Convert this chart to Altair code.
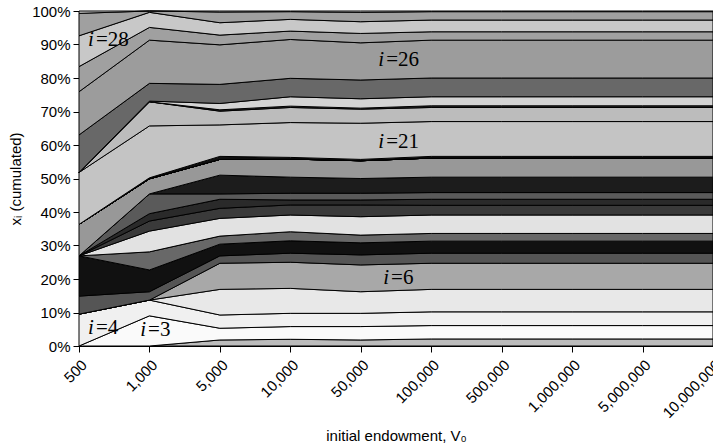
import json
import altair as alt
import pandas as pd

# Initial endowment V0 (x axis categories)
ENDOWMENTS = ["500", "1,000", "5,000", "10,000", "50,000", "100,000",
              "500,000", "1,000,000", "5,000,000", "10,000,000"]

# Cumulated share (%) up to and including strategy i = 1..30, one list per endowment
CUM_500 = [0, 0, 0, 9.5, 9.5, 9.5, 14.9, 26.9, 26.9, 26.9, 26.9, 26.9, 26.9, 26.9, 36.3,
           36.3, 36.3, 36.3, 36.3, 36.3, 51.8, 51.8, 51.8, 51.8, 63.0, 75.9, 83.4, 92.6, 99.3, 100]
CUM_1K = [0, 0, 9.0, 13.7, 13.7, 13.7, 16.2, 22.7, 28.1, 34.3, 37.3, 39.5, 45.4, 45.4, 49.9,
          49.9, 49.9, 49.9, 49.9, 50.2, 65.7, 72.9, 72.9, 73.1, 78.4, 91.3, 95.1, 99.6, 100, 100]
CUM_5K = [0, 1.8, 5.3, 9.25, 16.9, 24.7, 26.9, 30.4, 32.8, 38.1, 41.1, 43.8, 45.4, 51.0, 55.7,
          55.7, 55.7, 55.7, 55.7, 56.6, 66.0, 70.1, 70.5, 72.4, 78.1, 89.9, 92.8, 96.5, 99.7, 100]
CUM_10K = [0, 2.0, 5.8, 9.75, 17.2, 25.0, 27.7, 31.4, 34.1, 39.1, 42.1, 43.6, 45.6, 50.4, 55.8,
           55.8, 55.8, 55.8, 55.8, 56.3, 66.7, 71.2, 71.6, 74.4, 79.9, 91.5, 94.0, 97.5, 99.8, 100]
CUM_50K = [0, 1.8, 5.8, 9.75, 16.2, 24.2, 27.2, 30.8, 33.1, 38.6, 42.1, 43.6, 45.6, 50.0, 55.3,
           55.3, 55.3, 55.3, 55.3, 55.7, 66.5, 70.7, 71.0, 73.8, 79.4, 90.5, 93.3, 96.8, 99.6, 100]
CUM_100K = [0, 2.1, 6.1, 10.2, 16.9, 24.7, 27.7, 31.3, 33.6, 39.1, 42.0, 43.8, 45.8, 50.4, 56.1,
            56.1, 56.1, 56.1, 56.1, 56.6, 67.0, 71.2, 71.7, 74.4, 80.0, 91.3, 93.8, 97.3, 99.8, 100]
CUM_500K = [0, 2.1, 6.1, 10.2, 16.9, 24.7, 27.7, 31.3, 33.6, 39.1, 42.0, 43.8, 45.8, 50.4, 56.1,
            56.1, 56.1, 56.1, 56.1, 56.6, 67.0, 71.2, 71.7, 74.4, 80.0, 91.3, 93.8, 97.3, 99.8, 100]
CUM_1M = [0, 2.1, 6.1, 10.2, 16.9, 24.7, 27.7, 31.3, 33.6, 39.1, 42.0, 43.8, 45.8, 50.4, 56.1,
          56.1, 56.1, 56.1, 56.1, 56.6, 67.0, 71.2, 71.7, 74.4, 80.0, 91.3, 93.8, 97.3, 99.8, 100]
CUM_5M = [0, 2.1, 6.1, 10.2, 16.9, 24.7, 27.7, 31.3, 33.6, 39.1, 42.0, 43.8, 45.8, 50.4, 56.1,
          56.1, 56.1, 56.1, 56.1, 56.6, 67.0, 71.2, 71.7, 74.4, 80.0, 91.3, 93.8, 97.3, 99.8, 100]
CUM_10M = [0, 2.1, 6.1, 10.2, 16.9, 24.7, 27.7, 31.3, 33.6, 39.1, 42.0, 43.8, 45.8, 50.4, 56.1,
           56.1, 56.1, 56.1, 56.1, 56.6, 67.0, 71.2, 71.7, 74.4, 80.0, 91.3, 93.8, 97.3, 99.8, 100]

COLUMNS = [CUM_500, CUM_1K, CUM_5K, CUM_10K, CUM_50K, CUM_100K,
           CUM_500K, CUM_1M, CUM_5M, CUM_10M]

# Grey fill for each strategy i = 1..30
FILLS = ["#b8b8b8", "#bcbcbc", "#fafafa", "#f0f0f0", "#e8e8e8", "#a8a8a8", "#555555",
         "#111111", "#686868", "#e2e2e2", "#3a3a3a", "#2a2a2a", "#5a5a5a", "#1c1c1c",
         "#989898", "#777777", "#333333", "#bbbbbb", "#444444", "#111111", "#c4c4c4",
         "#bcbcbc", "#333333", "#d4d4d4", "#686868", "#9c9c9c", "#a0a0a0", "#c8c8c8",
         "#a0a0a0", "#d0d0d0"]

# In-chart strategy labels: (number, x position in category units, y in %)
LABEL_NUM = ["=28", "=26", "=21", "=6", "=4", "=3"]
LABEL_POS = [0.24, 4.36, 4.36, 4.43, 0.24, 0.98]
LABEL_Y = [91.3, 85.4, 60.9, 20.3, 5.4, 4.8]

rows = []
for j, cum in enumerate(COLUMNS):
    for k, top in enumerate(cum):
        rows.append({
            "pos": j,
            "series": f"i{k + 1:02d}",
            "lower": cum[k - 1] if k > 0 else 0.0,
            "upper": top,
        })
df = pd.DataFrame(rows)
series_names = [f"i{k + 1:02d}" for k in range(len(FILLS))]

labels = pd.DataFrame({"num": LABEL_NUM, "pos": LABEL_POS, "upper": LABEL_Y})

label_expr = json.dumps(ENDOWMENTS) + "[datum.value]"
x_scale = alt.Scale(domain=[0, len(ENDOWMENTS) - 1], nice=False, zero=False)
y_scale = alt.Scale(domain=[0, 100], nice=False)

x_axis = alt.Axis(
    values=list(range(len(ENDOWMENTS))),
    labelExpr=label_expr,
    labelAngle=315,
    labelOverlap=False,
    labelFont="Liberation Sans",
    labelFontSize=15,
    labelColor="black",
    labelPadding=5,
    tickSize=6,
    tickColor="black",
    domainColor="black",
    grid=False,
    title="initial endowment, V₀",
    titleFont="Liberation Sans",
    titleFontSize=15,
    titleFontWeight="normal",
    titleColor="black",
    titlePadding=8,
)

y_axis = alt.Axis(
    values=[0, 10, 20, 30, 40, 50, 60, 70, 80, 90, 100],
    labelExpr="datum.value + '%'",
    labelOverlap=False,
    labelFont="Liberation Sans",
    labelFontSize=15,
    labelColor="black",
    labelPadding=3,
    tickSize=6,
    tickColor="black",
    domainColor="black",
    grid=False,
    title="xᵢ (cumulated)",
    titleFont="Liberation Sans",
    titleFontSize=15,
    titleFontWeight="normal",
    titleColor="black",
    titlePadding=8,
)

x_enc = alt.X("pos:Q", scale=x_scale, axis=x_axis)
y_enc = alt.Y("upper:Q", scale=y_scale, axis=y_axis)

areas = alt.Chart(df).mark_area(
    stroke="black", strokeWidth=1, interpolate="linear", opacity=1
).encode(
    x=x_enc,
    y=y_enc,
    y2="lower:Q",
    color=alt.Color("series:N", scale=alt.Scale(domain=series_names, range=FILLS), legend=None),
)

label_i = alt.Chart(labels).mark_text(
    text="i", font="Liberation Serif", fontSize=21, fontStyle="italic",
    align="right", baseline="middle", color="black", dx=-2
).encode(x=x_enc, y=y_enc)

label_n = alt.Chart(labels).mark_text(
    font="Liberation Serif", fontSize=21, align="left", baseline="middle", color="black"
).encode(x=x_enc, y=y_enc, text="num:N")

chart = alt.layer(areas, label_i, label_n).properties(
    width=634,
    height=335,
    autosize=alt.AutoSizeParams(type="none"),
    padding={"left": 79, "top": 11, "right": 0, "bottom": 98},
).configure_view(stroke=None).configure(background="white")

chart.save("out.html", embed_options={"renderer": "svg", "actions": False})
